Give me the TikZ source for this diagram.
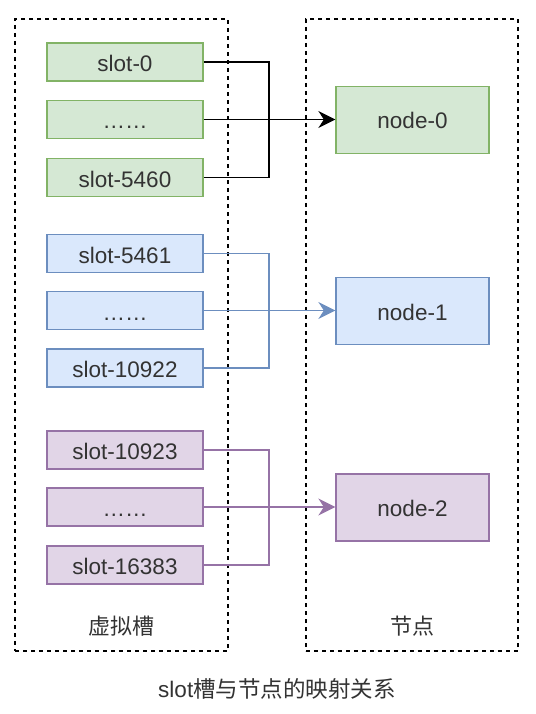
\documentclass[tikz,border=0pt]{standalone}
\usepackage{fontspec}
\setmainfont{Liberation Sans}
\newfontfamily\cjk{Noto Sans CJK SC}
\usetikzlibrary{arrows.meta}
\definecolor{gfill}{HTML}{D5E8D4}\definecolor{gdraw}{HTML}{82B366}
\definecolor{bfill}{HTML}{DAE8FC}\definecolor{bdraw}{HTML}{6C8EBF}
\definecolor{pfill}{HTML}{E1D5E7}\definecolor{pdraw}{HTML}{9673A6}
\definecolor{txt}{HTML}{333333}
\tikzset{
  box/.style={draw, line width=1.3pt, minimum width=156pt, minimum height=38pt, inner sep=0pt, text height=19pt, text depth=0pt, font=\fontsize{22.5}{26}\selectfont, text=txt},
  nodebox/.style={draw, line width=1.3pt, minimum width=153pt, minimum height=67pt, inner sep=0pt, text height=18pt, text depth=0pt, font=\fontsize{22.5}{26}\selectfont, text=txt},
  gbox/.style={fill=gfill, draw=gdraw},
  bbox/.style={fill=bfill, draw=bdraw},
  pbox/.style={fill=pfill, draw=pdraw},
  conn/.style={line width=1.4pt},
  tip/.style={-{Stealth[length=17pt,width=17pt,inset=5.5pt]}},
  region/.style={draw, line width=1.4pt, dash pattern=on 4pt off 4pt},
  lbl/.style={font=\cjk\fontsize{22}{26}\selectfont, text=txt, inner sep=0pt}
}
\begin{document}
\begin{tikzpicture}[x=1pt,y=-1pt]
\useasboundingbox (0,0) rectangle (535,714);
% regions
\node[region, minimum width=213pt, minimum height=632pt, inner sep=0pt] (left) at (121.5,335) {};
\node[region, minimum width=212pt, minimum height=632pt, inner sep=0pt] (right) at (412,335) {};
\node[lbl] (lblL) at (121,626) {虚拟槽};
\node[lbl] (lblR) at (412,626) {节点};
% slots
\node[box,gbox] (s0) at (125,62) {slot-0};
\node[box,gbox] (s1) at (125,119.5) {……};
\node[box,gbox] (s2) at (125,177.5) {slot-5460};
\node[box,bbox] (s3) at (125,253.5) {slot-5461};
\node[box,bbox] (s4) at (125,310.5) {……};
\node[box,bbox] (s5) at (125,368) {slot-10922};
\node[box,pbox] (s6) at (125,450) {slot-10923};
\node[box,pbox] (s7) at (125,507) {……};
\node[box,pbox] (s8) at (125,565) {slot-16383};
% nodes
\node[nodebox,gbox] (n0) at (412.5,120) {node-0};
\node[nodebox,bbox] (n1) at (412.5,311) {node-1};
\node[nodebox,pbox] (n2) at (412.5,507.5) {node-2};
% junctions
\coordinate (j0) at (269,119.5);
\coordinate (j1) at (269,310.5);
\coordinate (j2) at (269,507);
% connectors
\draw[conn,black] (s0.east) -| (j0) |- (s2.east);
\draw[conn,black,tip] (s1.east) -- (s1.east -| n0.west);
\draw[conn,bdraw] (s3.east) -| (j1) |- (s5.east);
\draw[conn,bdraw,tip] (s4.east) -- (s4.east -| n1.west);
\draw[conn,pdraw] (s6.east) -| (j2) |- (s8.east);
\draw[conn,pdraw,tip] (s7.east) -- (s7.east -| n2.west);
% caption
\node[font=\fontsize{22.5}{26}\selectfont, text=txt, inner sep=0pt] (cap) at (277,689) {slot{\cjk 槽与节点的映射关系}};
\end{tikzpicture}
\end{document}
